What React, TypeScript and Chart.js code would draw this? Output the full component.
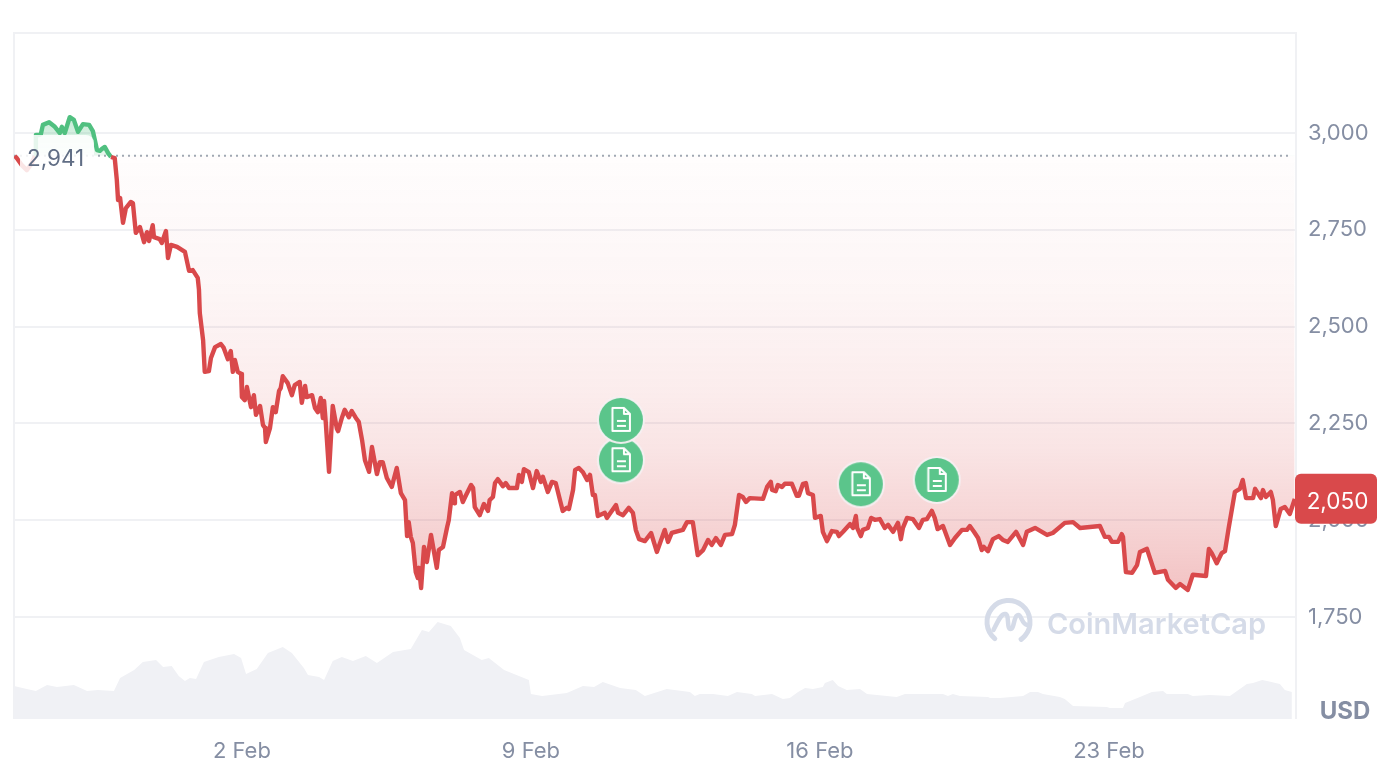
import React, { useEffect, useRef } from "react";
import { Chart, registerables } from "chart.js";

Chart.register(...registerables);

// Time is given as a February day number (2 = 2 Feb 00:00, negative = late January)
const priceDays = [
  -3.5,-3.45,-3.33,-3.21,-3.09,-3.01,-2.99,-2.92,-2.87,-2.82,-2.67,-2.53,-2.41,-2.36,-2.29,-2.17,-2.07,-1.97,-1.85,-1.7,-1.61,-1.51,-1.44,-1.39,-1.32,-1.24,-1.17,-1.08,-1.03,-1.0,-0.95,-0.88,-0.81,-0.69,-0.64,-0.57,-0.47,-0.37,-0.3,-0.25,-0.16,-0.13,0.01,0.06,0.16,0.21,0.28,0.43,0.62,0.72,0.81,0.93,0.96,0.98,1.06,1.1,1.2,1.25,1.35,1.49,1.56,1.66,1.73,1.78,1.83,1.9,1.98,2.0,2.07,2.12,2.22,2.29,2.34,2.44,2.51,2.56,2.58,2.68,2.75,2.82,2.9,2.94,2.99,3.11,3.21,3.28,3.4,3.45,3.53,3.57,3.7,3.77,3.84,3.91,3.96,3.99,4.03,4.11,4.2,4.3,4.33,4.42,4.49,4.59,4.66,4.76,4.83,4.91,4.98,5.08,5.15,5.27,5.34,5.41,5.51,5.63,5.75,5.85,5.95,6.0,6.04,6.09,6.14,6.21,6.26,6.29,6.34,6.41,6.48,6.58,6.72,6.77,6.87,6.97,7.01,7.09,7.14,7.16,7.28,7.35,7.43,7.55,7.6,7.64,7.76,7.86,7.96,8.0,8.08,8.13,8.2,8.32,8.39,8.47,8.66,8.71,8.78,8.83,8.95,9.05,9.14,9.24,9.29,9.41,9.51,9.6,9.77,9.87,9.92,10.02,10.07,10.16,10.26,10.36,10.43,10.5,10.55,10.62,10.79,10.84,10.94,11.06,11.11,11.23,11.37,11.47,11.54,11.62,11.76,11.91,12.05,12.24,12.32,12.41,12.68,12.78,12.92,13.04,13.17,13.29,13.38,13.48,13.6,13.7,13.87,13.94,14.04,14.13,14.21,14.3,14.62,14.72,14.81,14.84,14.93,14.98,15.08,15.15,15.32,15.44,15.49,15.59,15.66,15.71,15.83,15.88,16.02,16.07,16.17,16.29,16.41,16.46,16.56,16.73,16.8,16.87,16.9,16.99,17.04,17.16,17.24,17.33,17.45,17.57,17.65,17.77,17.89,17.96,18.01,18.11,18.25,18.4,18.49,18.59,18.71,18.78,18.85,18.98,19.15,19.27,19.44,19.56,19.63,19.73,19.83,19.92,19.97,20.07,20.19,20.33,20.43,20.55,20.75,20.92,21.01,21.21,21.5,21.64,21.93,22.13,22.3,22.78,22.9,23.0,23.07,23.22,23.31,23.34,23.41,23.56,23.68,23.75,23.92,24.11,24.36,24.43,24.62,24.72,24.91,25.03,25.35,25.42,25.49,25.61,25.73,25.81,25.9,26.05,26.17,26.24,26.32,26.49,26.54,26.68,26.73,26.8,26.92,26.97,27.04,27.16,27.26,27.38,27.5,
];
const priceValues = [
  2941,2935,2917,2904,2922,2941,2995,2995,2997,3021,3028,3016,3000,3016,3000,3041,3034,3003,3023,3021,3005,2956,2954,2959,2964,2948,2938,2935,2879,2827,2832,2768,2806,2822,2819,2742,2757,2718,2744,2721,2762,2731,2726,2716,2747,2677,2711,2706,2693,2644,2646,2626,2595,2535,2465,2383,2385,2419,2447,2455,2445,2416,2437,2383,2414,2383,2378,2318,2310,2344,2292,2323,2272,2295,2246,2238,2202,2238,2292,2279,2334,2341,2372,2354,2323,2349,2357,2303,2347,2318,2323,2290,2279,2316,2264,2308,2254,2125,2295,2236,2230,2264,2285,2266,2282,2264,2254,2207,2155,2125,2189,2119,2150,2150,2109,2086,2135,2070,2052,1959,1995,1957,1941,1866,1851,1877,1825,1931,1892,1962,1877,1923,1931,1982,2000,2070,2044,2065,2073,2047,2065,2091,2083,2034,2013,2042,2024,2052,2060,2096,2106,2088,2096,2083,2083,2117,2099,2132,2124,2083,2127,2099,2112,2073,2099,2096,2024,2032,2029,2078,2130,2135,2124,2104,2117,2065,2065,2011,2019,2006,2021,2039,2019,2013,2032,2019,1975,1951,1946,1967,1918,1975,1944,1967,1975,1995,1995,1910,1923,1949,1936,1954,1936,1962,1964,1988,2065,2060,2047,2057,2055,2086,2099,2078,2075,2091,2086,2094,2094,2063,2063,2094,2096,2070,2065,2006,2011,1970,1946,1972,1970,1959,1970,1990,1980,2011,1980,1959,1975,1980,2006,2001,2003,1980,1988,1970,1993,1951,1980,2006,2003,1980,2001,2003,2024,2006,1977,1985,1936,1954,1975,1975,1985,1970,1954,1923,1931,1920,1951,1959,1949,1944,1970,1936,1970,1980,1962,1967,1993,1995,1980,1985,1957,1957,1944,1944,1964,1957,1866,1864,1884,1918,1926,1864,1869,1846,1825,1835,1820,1859,1856,1926,1915,1889,1915,1920,1980,2073,2081,2104,2057,2057,2081,2057,2078,2060,2073,2052,1985,2029,2034,2016,2055,
];
const volumeDays = [
  -3.52,-3.21,-2.99,-2.72,-2.48,-2.07,-1.75,-1.49,-1.1,-0.95,-0.61,-0.4,-0.08,0.09,0.3,0.47,0.62,0.74,0.89,1.08,1.44,1.81,1.98,2.1,2.36,2.63,2.99,3.21,3.5,3.6,3.87,3.99,4.2,4.42,4.69,5.0,5.27,5.66,6.09,6.36,6.53,6.74,7.06,7.28,7.38,7.81,7.98,8.35,8.95,9.0,9.27,9.87,10.26,10.53,10.74,11.16,11.54,11.76,12.29,12.85,12.97,13.09,13.41,13.77,13.99,14.35,14.43,14.84,15.1,15.27,15.47,15.64,15.83,16.07,16.12,16.31,16.44,16.65,16.97,17.14,17.86,18.06,18.98,19.1,19.22,19.39,20.07,20.12,20.36,20.92,21.09,21.28,21.4,21.81,21.93,22.13,22.95,23.02,23.34,23.39,23.75,24.04,24.31,24.4,24.77,24.91,25.03,25.44,25.93,26.17,26.34,26.49,26.71,26.83,27.14,27.26,27.43,
];
const volumeValues = [
  16.5,15,14,17,16,17,14,14.5,14,20.5,24.5,28.5,29.5,26,26.5,21.5,19,20.5,20,28.5,31,32.5,30.5,22.5,25,33,36,33,25.5,22,21,19.5,29,31,29,31.5,28,33.5,35,44.5,43.5,48.5,46.5,40.5,34.5,29.5,30.5,24.5,19.5,12.5,11.5,13,16.5,16,18.5,15.5,14.5,11.5,15,13.5,11.5,12.5,12.5,11.5,13.5,12.5,11.5,12.5,10,10.5,13.5,15.5,15,16,18,19.5,16.5,14.5,15,12.5,11,12.5,12.5,11.5,12.5,11.5,11,10.5,10.5,11.5,13.5,13.5,12.5,11,10,6.5,6,5.5,5.5,8,11,13.5,14,12.5,12.5,12.5,11.5,12,11.5,15,17.5,18,19.5,19,17.5,14.5,13.5,
];
const eventDays = [11.18, 11.18, 16.99, 18.83];
const eventValues = [2155, 2259, 2093, 2104];

const yTicks = [1750, 2000, 2250, 2500, 2750, 3000];
const xTickDays = [2, 9, 16, 23];
const xTickLabels = ["2 Feb", "9 Feb", "16 Feb", "23 Feb"];
const baseline = 2941;
const lastPrice = 2050;
const domainDays = [-3.52, 27.53];
const domainPrice = [1486.6, 3258.3];
const volumeMax = 343;
const lastDottedDay = 27.38;

const RED = "rgb(217,73,75)";
const GREEN = "rgb(80,192,128)";
const GRID = "#f0f1f4";
const TEXT = "#858ea3";
const FONT = "Inter";

function makeEventIcon(): HTMLCanvasElement {
  const c = document.createElement("canvas");
  c.width = 50;
  c.height = 50;
  const g = c.getContext("2d")!;
  const m = 25;
  g.beginPath();
  g.arc(m, m, 24, 0, Math.PI * 2);
  g.fillStyle = "rgba(245,240,242,0.95)";
  g.fill();
  g.beginPath();
  g.arc(m, m, 22, 0, Math.PI * 2);
  g.fillStyle = "#5bc58b";
  g.fill();
  g.strokeStyle = "#fff";
  g.lineWidth = 2;
  g.lineJoin = "round";
  g.beginPath();
  g.moveTo(m - 8.5, m - 12);
  g.lineTo(m + 3, m - 12);
  g.lineTo(m + 9, m - 6);
  g.lineTo(m + 9, m + 11);
  g.lineTo(m - 8.5, m + 11);
  g.closePath();
  g.moveTo(m + 3, m - 12);
  g.lineTo(m + 3, m - 6);
  g.lineTo(m + 9, m - 6);
  g.moveTo(m - 4, m + 1);
  g.lineTo(m + 5, m + 1);
  g.moveTo(m - 4, m + 6);
  g.lineTo(m + 5, m + 6);
  g.stroke();
  return c;
}

const framePlugin = {
  id: "frame",
  beforeDatasetsDraw(chart: any) {
    const { ctx, chartArea: a } = chart;
    ctx.save();
    ctx.strokeStyle = GRID;
    ctx.lineWidth = 2;
    ctx.beginPath();
    ctx.moveTo(a.left, a.bottom);
    ctx.lineTo(a.left, a.top);
    ctx.lineTo(a.right, a.top);
    ctx.lineTo(a.right, a.bottom);
    ctx.stroke();

    // watermark
    const cx = 1008.5;
    const cy = 622;
    ctx.strokeStyle = "#d5dbe8";
    ctx.lineWidth = 5;
    ctx.lineCap = "round";
    ctx.lineJoin = "round";
    ctx.beginPath();
    ctx.arc(cx, cy, 21.5, Math.PI * 0.72, Math.PI * 0.3);
    ctx.stroke();
    ctx.lineWidth = 4.5;
    ctx.beginPath();
    ctx.moveTo(cx - 15, cy + 8);
    ctx.bezierCurveTo(cx - 10, cy - 2, cx - 7, cy - 9, cx - 3, cy - 8);
    ctx.bezierCurveTo(cx + 1, cy - 7, cx - 2, cy + 7, cx + 2, cy + 7);
    ctx.bezierCurveTo(cx + 6, cy + 7, cx + 5, cy - 7, cx + 10, cy - 7);
    ctx.bezierCurveTo(cx + 13, cy - 7, cx + 13, cy + 2, cx + 19, cy + 3);
    ctx.stroke();
    ctx.fillStyle = "#d5dbe8";
    ctx.font = `600 29px ${FONT}`;
    ctx.textAlign = "left";
    ctx.textBaseline = "alphabetic";
    ctx.fillText("CoinMarketCap", 1047, 634);
    ctx.restore();
  },
  afterDraw(chart: any) {
    const { ctx } = chart;
    const py = chart.scales.y.getPixelForValue(lastPrice);
    ctx.save();
    // start-price label
    ctx.fillStyle = "rgba(255,255,255,0.86)";
    ctx.beginPath();
    ctx.roundRect(20, 135, 74, 43, 8);
    ctx.fill();
    ctx.fillStyle = "#616e85";
    ctx.font = `400 22.5px ${FONT}`;
    ctx.textAlign = "left";
    ctx.textBaseline = "middle";
    ctx.fillText(baseline.toLocaleString("en-US"), 27, 159);
    // last-price tag
    ctx.fillStyle = RED;
    ctx.beginPath();
    ctx.roundRect(1295, py - 27, 82, 50, 6);
    ctx.fill();
    ctx.fillStyle = "#fff";
    ctx.textAlign = "center";
    ctx.fillText(lastPrice.toLocaleString("en-US"), 1337.5, py + 1);
    // currency
    ctx.fillStyle = TEXT;
    ctx.font = `700 24px ${FONT}`;
    ctx.fillText("USD", 1345, 712);
    ctx.restore();
  },
};

export default function App() {
  const ref = useRef<HTMLCanvasElement>(null);
  useEffect(() => {
    const canvas = ref.current!;
    const g = canvas.getContext("2d")!;
    const below = g.createLinearGradient(0, 156, 0, 590);
    below.addColorStop(0, "rgba(217,73,75,0.01)");
    below.addColorStop(0.31, "rgba(217,73,75,0.05)");
    below.addColorStop(0.54, "rgba(217,73,75,0.10)");
    below.addColorStop(0.68, "rgba(217,73,75,0.15)");
    below.addColorStop(0.84, "rgba(217,73,75,0.23)");
    below.addColorStop(1, "rgba(217,73,75,0.33)");
    const above = g.createLinearGradient(0, 117, 0, 156);
    above.addColorStop(0, "rgba(80,192,128,0.32)");
    above.addColorStop(1, "rgba(80,192,128,0.12)");
    const icon = makeEventIcon();

    const chart = new Chart(canvas, {
      type: "line",
      plugins: [framePlugin],
      data: {
        datasets: [
          {
            label: "Events",
            yAxisID: "y",
            order: 1,
            data: eventDays.map((x, i) => ({ x, y: eventValues[i] })),
            showLine: false,
            pointStyle: icon as any,
            pointRadius: 24,
            clip: false as any,
          },
          {
            label: "Price",
            yAxisID: "y",
            order: 2,
            data: priceDays.map((x, i) => ({ x, y: priceValues[i] })),
            borderWidth: 4.4,
            borderColor: RED,
            borderJoinStyle: "round",
            pointRadius: 0,
            tension: 0,
            fill: { target: { value: baseline }, above, below },
            segment: {
              borderColor: (c: any) =>
                c.p0.parsed.y > baseline || c.p1.parsed.y > baseline ? GREEN : RED,
            },
          },
          {
            label: "Start price",
            yAxisID: "y",
            order: 3,
            data: [
              { x: domainDays[0], y: baseline },
              { x: lastDottedDay, y: baseline },
            ],
            borderColor: "#a2a8b4",
            borderWidth: 2,
            borderDash: [2, 4],
            pointRadius: 0,
            fill: false,
          },
          {
            label: "Volume",
            yAxisID: "yVolume",
            order: 4,
            data: volumeDays.map((x, i) => ({ x, y: volumeValues[i] })),
            borderWidth: 0,
            pointRadius: 0,
            tension: 0,
            fill: "origin",
            backgroundColor: "#f0f1f5",
          },
        ],
      },
      options: {
        animation: false,
        responsive: false,
        parsing: { xAxisKey: "x", yAxisKey: "y" },
        layout: { autoPadding: false, padding: { left: 14, top: 33, right: 0, bottom: 0 } },
        plugins: { legend: { display: false }, tooltip: { enabled: false } },
        scales: {
          x: {
            type: "linear",
            min: domainDays[0],
            max: domainDays[1],
            grid: { display: false, drawTicks: false },
            border: { display: false },
            afterBuildTicks: (s: any) => {
              s.ticks = xTickDays.map((value) => ({ value }));
            },
            afterFit: (s: any) => {
              s.height = 49;
              s.paddingLeft = 0;
              s.paddingRight = 0;
            },
            ticks: {
              autoSkip: false,
              maxRotation: 0,
              padding: 19,
              color: TEXT,
              font: { family: FONT, size: 22, weight: "400" },
              callback: (v: any) => xTickLabels[xTickDays.indexOf(v)],
            },
          },
          y: {
            type: "linear",
            position: "right",
            min: domainPrice[0],
            max: domainPrice[1],
            grid: { color: GRID, lineWidth: 2, drawTicks: false },
            border: { display: false },
            afterBuildTicks: (s: any) => {
              s.ticks = yTicks.map((value) => ({ value }));
            },
            afterFit: (s: any) => {
              s.width = 94;
              s.paddingTop = 0;
              s.paddingBottom = 0;
            },
            ticks: {
              padding: 12,
              color: TEXT,
              font: { family: FONT, size: 22, weight: "400" },
              callback: (v: any) => Number(v).toLocaleString("en-US"),
            },
          },
          yVolume: {
            type: "linear",
            position: "right",
            display: false,
            min: 0,
            max: volumeMax,
            grid: { drawTicks: false },
            afterFit: (s: any) => {
              s.width = 0;
            },
          },
        },
      },
    } as any);
    return () => chart.destroy();
  }, []);
  return (
    <canvas
      ref={ref}
      width={1390}
      height={768}
      style={{ position: "absolute", left: 0, top: 0, display: "block" }}
    />
  );
}
